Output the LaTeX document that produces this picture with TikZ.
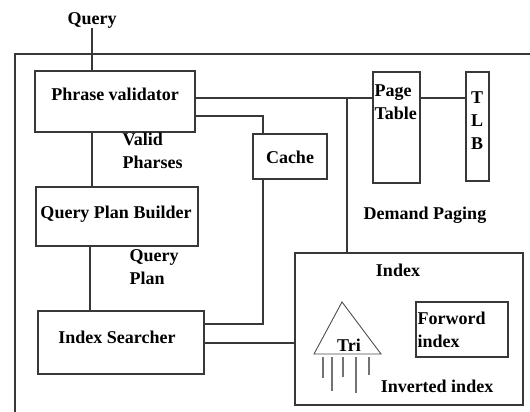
\documentclass[tikz,border=0pt]{standalone}
\usepackage{fontspec}
\setmainfont{Liberation Serif}
\usetikzlibrary{positioning}

\begin{document}
\begin{tikzpicture}[x=1pt,y=-1pt,
    line width=1.1pt, draw=black!78,
    box/.style={draw=black!78, line width=1.1pt, inner sep=0pt},
    txt/.style={font=\bfseries\fontsize{18}{23}\selectfont, text=black, inner sep=0pt, align=left},
    leg/.style={draw=black!55, line width=1.8pt}]
  \useasboundingbox (0,0) rectangle (530,412);
  % outer frame
  \draw[black!78] (15,412) |- (530,54);
  % boxes
  \node[box, minimum width=160pt, minimum height=61pt] (pv) at (115,101.5) {};
  \node[box, minimum width=162pt, minimum height=59pt] (qpb) at (117,216.5) {};
  \node[box, minimum width=166pt, minimum height=63pt] (is) at (121,342.5) {};
  \node[box, minimum width=74pt, minimum height=45pt] (cache) at (290,156.5) {};
  \node[box, minimum width=47pt, minimum height=111pt] (pt) at (396.5,127.5) {};
  \node[box, minimum width=23pt, minimum height=109pt] (tlb) at (477.5,126.5) {};
  \node[box, minimum width=228pt, minimum height=152pt] (idx) at (409,329) {};
  \node[box, minimum width=92pt, minimum height=55pt] (fwd) at (462,329.5) {};
  % texts
  \node[txt] (query) at (92,20) {Query};
  \node[txt] (pvtext) at (115,94) {Phrase validator};
  \node[txt, anchor=north west] (valid) at (122,132) {Valid\\Pharses};
  \node[txt] (qpbtext) at (116,214) {Query Plan Builder};
  \node[txt, anchor=north west] (qplan) at (129,249) {Query\\Plan};
  \node[txt] (istext) at (117,337) {Index Searcher};
  \node[txt] (cachetext) at (290,157) {Cache};
  \node[txt, anchor=north west] (pttext) at (374,84) {Page\\Table};
  \node[txt, anchor=north, align=center] (tlbtext) at (477,91) {T\\L\\B};
  \node[txt] (paging) at (425,215) {Demand Paging};
  \node[txt] (idxtext) at (398,270) {Index};
  \node[txt] (tri) at (349,345) {Tri};
  \node[txt, anchor=north west] (fwdtext) at (417,311) {Forword\\index};
  \node[txt] (inv) at (437,386) {Inverted index};
  % helper coordinates
  \coordinate (spine) at (92,0);
  \coordinate (spinelow) at (90,0);
  \coordinate (hi) at (0,98);
  \coordinate (cx) at (263,116);
  \coordinate (lo) at (0,324);
  \coordinate (mid) at (0,343);
  \coordinate (jn) at (347,98);
  % connectors
  \draw (query) -- (query |- pv.north);
  \draw (pv.south -| spine) -- (qpb.north -| spine);
  \draw (qpb.south -| spinelow) -- (is.north -| spinelow);
  \draw (pv.east |- hi) -- (pt.west |- hi);
  \draw (jn) -- (jn |- idx.north);
  \draw (pt.east |- hi) -- (tlb.west |- hi);
  \draw (pv.east |- cx) -| (cache.north -| cx);
  \draw (cache.south -| cx) |- (is.east |- lo);
  \draw (is.east |- mid) -- (idx.west |- mid);
  % trie
  \draw[black!70, line width=0.9pt] (342,302) -- (314,354) -- (381,354) -- cycle;
  \foreach \x/\y in {323/378, 332/391, 343/377, 356/393, 369/375}
    \draw[leg] (\x,357) -- (\x,\y);
\end{tikzpicture}
\end{document}
